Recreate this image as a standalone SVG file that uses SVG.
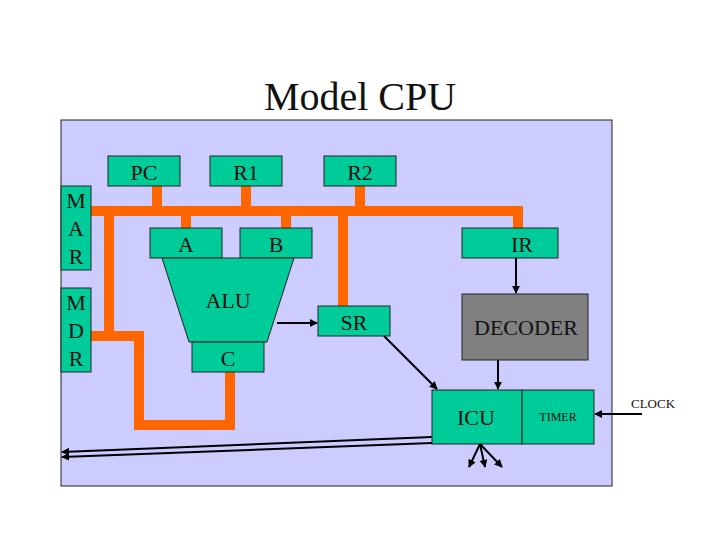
<svg xmlns="http://www.w3.org/2000/svg" width="720" height="540" viewBox="0 0 720 540">
<style>
.g{fill:#00cc99;stroke:#222;stroke-width:1}
.t{font-family:"Liberation Serif",serif;fill:#111;text-anchor:middle}
.bus{fill:#ff6600}
.a{stroke:#000;stroke-width:2;fill:none;marker-end:url(#ah)}
</style>
<defs><marker id="ah" viewBox="0 0 10 10" refX="9" refY="5" markerWidth="4" markerHeight="4" orient="auto"><path d="M0,0L10,5L0,10z" fill="#000"/></marker></defs>
<rect width="720" height="540" fill="#fff"/>
<text class="t" x="360" y="110" font-size="40">Model CPU</text>
<rect x="61" y="120" width="551" height="366" fill="#ccccff" stroke="#222"/>
<g id="bus">
<rect class="bus" x="91" y="206" width="431" height="10"/>
<rect class="bus" x="152" y="186" width="10" height="22"/>
<rect class="bus" x="241" y="186" width="10" height="22"/>
<rect class="bus" x="355" y="186" width="10" height="22"/>
<rect class="bus" x="181" y="214" width="10" height="14"/>
<rect class="bus" x="281" y="214" width="10" height="14"/>
<rect class="bus" x="513" y="206" width="10" height="22"/>
<rect class="bus" x="338" y="214" width="10" height="92"/>
<rect class="bus" x="104" y="214" width="10" height="126"/>
<rect class="bus" x="91" y="331" width="52" height="10"/>
<rect class="bus" x="134" y="331" width="10" height="99"/>
<rect class="bus" x="134" y="420" width="101" height="10"/>
<rect class="bus" x="225" y="370" width="10" height="60"/>
</g>
<g id="PC"><rect class="g" x="108" y="156" width="72" height="30"/><text class="t" x="144" y="180" font-size="22">PC</text></g>
<g id="R1"><rect class="g" x="210" y="156" width="72" height="30"/><text class="t" x="246" y="180" font-size="22">R1</text></g>
<g id="R2"><rect class="g" x="324" y="156" width="72" height="30"/><text class="t" x="360" y="180" font-size="22">R2</text></g>
<g id="MAR"><rect class="g" x="61" y="186" width="30" height="84"/><text class="t" x="76" y="208" font-size="22">M</text><text class="t" x="76" y="236" font-size="22">A</text><text class="t" x="76" y="264" font-size="22">R</text></g>
<g id="MDR"><rect class="g" x="61" y="288" width="30" height="84"/><text class="t" x="76" y="310" font-size="22">M</text><text class="t" x="76" y="338" font-size="22">D</text><text class="t" x="76" y="366" font-size="22">R</text></g>
<g id="A"><rect class="g" x="150" y="228" width="72" height="30"/><text class="t" x="186" y="252" font-size="22">A</text></g>
<g id="B"><rect class="g" x="240" y="228" width="72" height="30"/><text class="t" x="276" y="252" font-size="22">B</text></g>
<g id="ALU"><polygon class="g" points="162,258 294,258 267,342 189,342"/><text class="t" x="228" y="308" font-size="22">ALU</text></g>
<g id="C"><rect class="g" x="192" y="342" width="72" height="30"/><text class="t" x="228" y="366" font-size="22">C</text></g>
<g id="SR"><rect class="g" x="318" y="306" width="72" height="30"/><text class="t" x="354" y="330" font-size="22">SR</text></g>
<g id="IR"><rect class="g" x="462" y="228" width="96" height="30"/><text class="t" x="522" y="252" font-size="22">IR</text></g>
<g id="DECODER"><rect x="462" y="294" width="126" height="66" fill="#808080" stroke="#222"/><text class="t" x="526" y="335" font-size="22">DECODER</text></g>
<g id="ICU"><rect class="g" x="432" y="390" width="90" height="54"/><text class="t" x="476" y="425" font-size="22">ICU</text></g>
<g id="TIMER"><rect class="g" x="522" y="390" width="72" height="54"/><text class="t" x="558" y="421" font-size="12">TIMER</text></g>
<text class="t" x="653" y="408" font-size="13">CLOCK</text>
<g id="connectors">
<line class="a" x1="277" y1="323" x2="317" y2="323"/>
<line class="a" x1="384" y1="336" x2="437" y2="389"/>
<line class="a" x1="516" y1="258" x2="516" y2="293"/>
<line class="a" x1="498" y1="360" x2="498" y2="389"/>
<line class="a" x1="642" y1="414" x2="595" y2="414"/>
<line class="a" x1="432" y1="437" x2="62" y2="452"/>
<line class="a" x1="432" y1="443" x2="62" y2="457"/>
<line class="a" x1="480" y1="444" x2="469" y2="467"/>
<line class="a" x1="480" y1="444" x2="485" y2="467"/>
<line class="a" x1="480" y1="444" x2="502" y2="467"/>
</g>
</svg>
